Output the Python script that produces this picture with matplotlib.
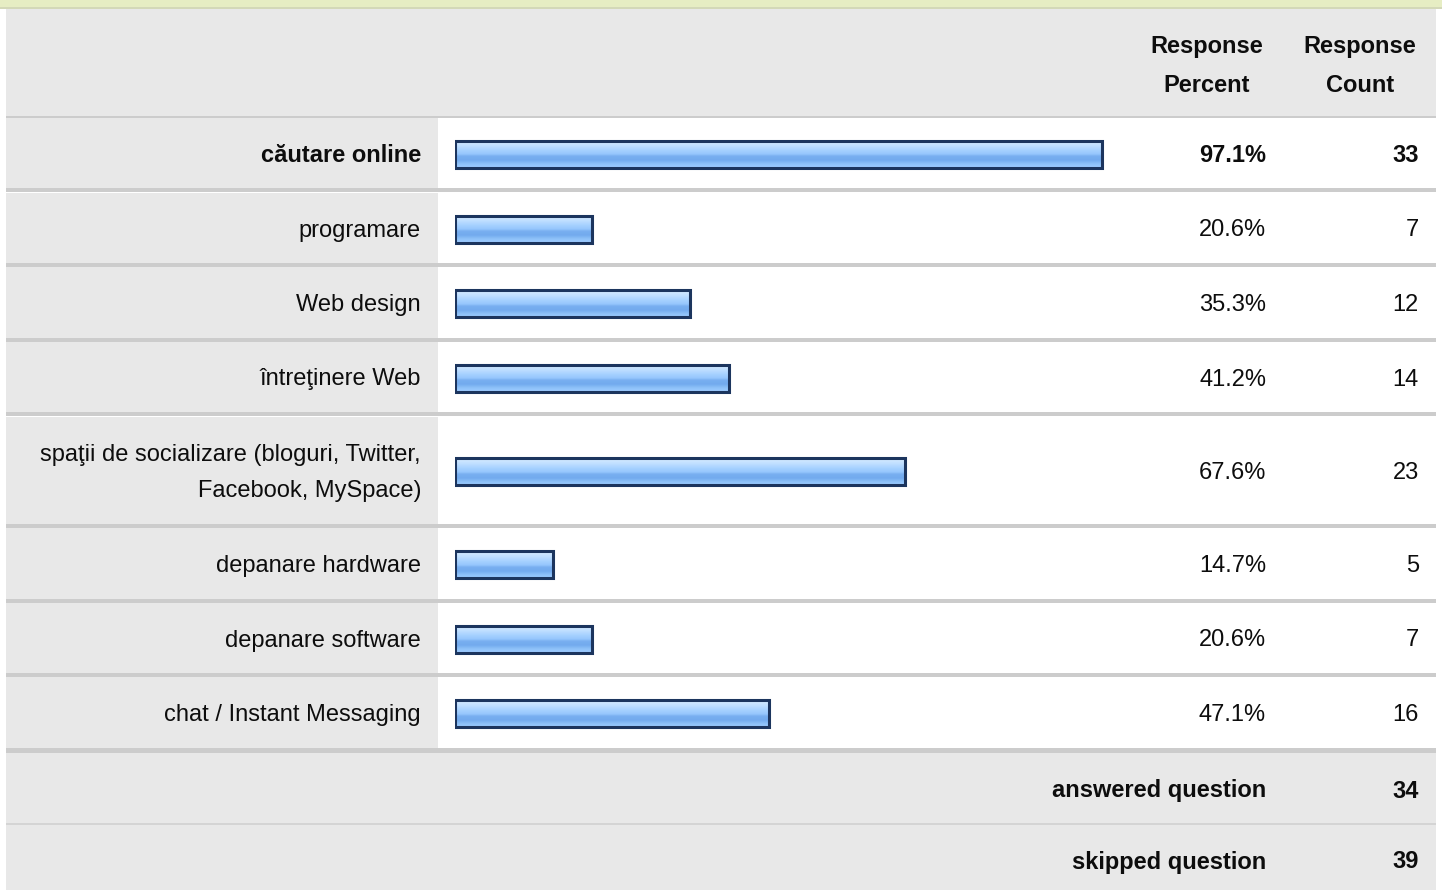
"""Survey results table: activities, response percent and count."""

import numpy as np
import matplotlib
matplotlib.use("Agg")
import matplotlib.pyplot as plt
from matplotlib.colors import LinearSegmentedColormap

plt.rcParams["font.family"] = ["Liberation Sans", "DejaVu Sans"]

# --- data ---
labels = [
    "căutare online",
    "programare",
    "Web design",
    "întreţinere Web",
    "spaţii de socializare (bloguri, Twitter,\nFacebook, MySpace)",
    "depanare hardware",
    "depanare software",
    "chat / Instant Messaging",
]
percents = [97.1, 20.6, 35.3, 41.2, 67.6, 14.7, 20.6, 47.1]
counts = [33, 7, 12, 14, 23, 5, 7, 16]
answered = 34
skipped = 39

# --- layout (pixel rows of the html table) ---
W, H = 1442, 890
row_top = [118, 193, 267, 342, 417, 528, 603, 677]
row_bot = [188, 263, 338, 412, 524, 599, 673, 748]
GREY = "#e8e8e8"
SEP = "#cccccc"
TXT = "#0d0d0d"
FS = 17
DY = 2.5  # text sits a little below the row centre

fig = plt.figure(figsize=(W / 100, H / 100), dpi=100)
ax = fig.add_axes([0, 0, 1, 1])
ax.set_xlim(0, W)
ax.set_ylim(H, 0)
ax.axis("off")

# top band and header
ax.fill_between([0, W], 0, 7, color="#e6edc3", lw=0)
ax.fill_between([0, W], 7, 9, color="#d3d8b8", lw=0)
ax.fill_between([6, 1436], 9, 116, color=GREY, lw=0)
ax.fill_between([6, 1436], 116, 118, color=SEP, lw=0)

# data rows
for i, (t, b) in enumerate(zip(row_top, row_bot)):
    ax.fill_between([6, 438], t, b, color=GREY, lw=0)
    ax.fill_between([6, 1436], b, b + 4 if i < 7 else b + 5, color=SEP, lw=0)
    yc = (t + b) / 2 + DY
    bold = "bold" if i == 0 else "normal"
    ax.text(421, yc, labels[i], ha="right", va="center", fontsize=FS,
            fontweight=bold, color=TXT, linespacing=1.85)
    ax.text(1266, yc, f"{percents[i]:.1f}%", ha="right", va="center",
            fontsize=FS, fontweight=bold, color=TXT)
    ax.text(1419, yc, str(counts[i]), ha="right", va="center",
            fontsize=FS, fontweight=bold, color=TXT)

# summary rows
ax.fill_between([6, 1436], 753, 823, color=GREY, lw=0)
ax.fill_between([6, 1436], 823, 825, color="#d4d4d4", lw=0)
ax.fill_between([6, 1436], 825, H, color=GREY, lw=0)
ax.text(1266, 791, "answered question", ha="right", va="center",
        fontsize=FS, fontweight="bold", color=TXT)
ax.text(1419, 791, str(answered), ha="right", va="center",
        fontsize=FS, fontweight="bold", color=TXT)
ax.text(1266, 862, "skipped question", ha="right", va="center",
        fontsize=FS, fontweight="bold", color=TXT)
ax.text(1419, 862, str(skipped), ha="right", va="center",
        fontsize=FS, fontweight="bold", color=TXT)

# header texts
ax.text(1207, 66, "Response\nPercent", ha="center", va="center",
        fontsize=FS, fontweight="bold", color=TXT, linespacing=1.85)
ax.text(1360, 66, "Response\nCount", ha="center", va="center",
        fontsize=FS, fontweight="bold", color=TXT, linespacing=1.85)

# bars: own axes with a 0-100 percent scale
x0, x1 = 455, 455 + 666
bax = fig.add_axes([x0 / W, 0, (x1 - x0) / W, 1])
bax.set_xlim(0, 100)
bax.set_ylim(H, 0)
bax.axis("off")
bax.patch.set_alpha(0)

grad = LinearSegmentedColormap.from_list("bar", [
    (0.0, "#d8ecff"), (0.2, "#c0dfff"), (0.4, "#a3cfff"),
    (0.52, "#96c6fd"), (0.6, "#78aff0"), (0.75, "#72aaee"),
    (0.88, "#8cc0f8"), (1.0, "#9ccbff"),
])
gimg = np.linspace(0, 1, 64).reshape(-1, 1)
bar_h = 27
for i, p in enumerate(percents):
    yc = (row_top[i] + row_bot[i]) / 2 + 1
    bax.imshow(gimg, cmap=grad, aspect="auto", interpolation="bilinear",
               extent=(0, p, yc + bar_h / 2, yc - bar_h / 2), zorder=2)
    bax.barh(yc, p, height=bar_h, left=0, facecolor="none",
             edgecolor="#1c355e", linewidth=2.2, zorder=3)
bax.set_xlim(0, 100)
bax.set_ylim(H, 0)

fig.savefig("out.png", dpi=100)
